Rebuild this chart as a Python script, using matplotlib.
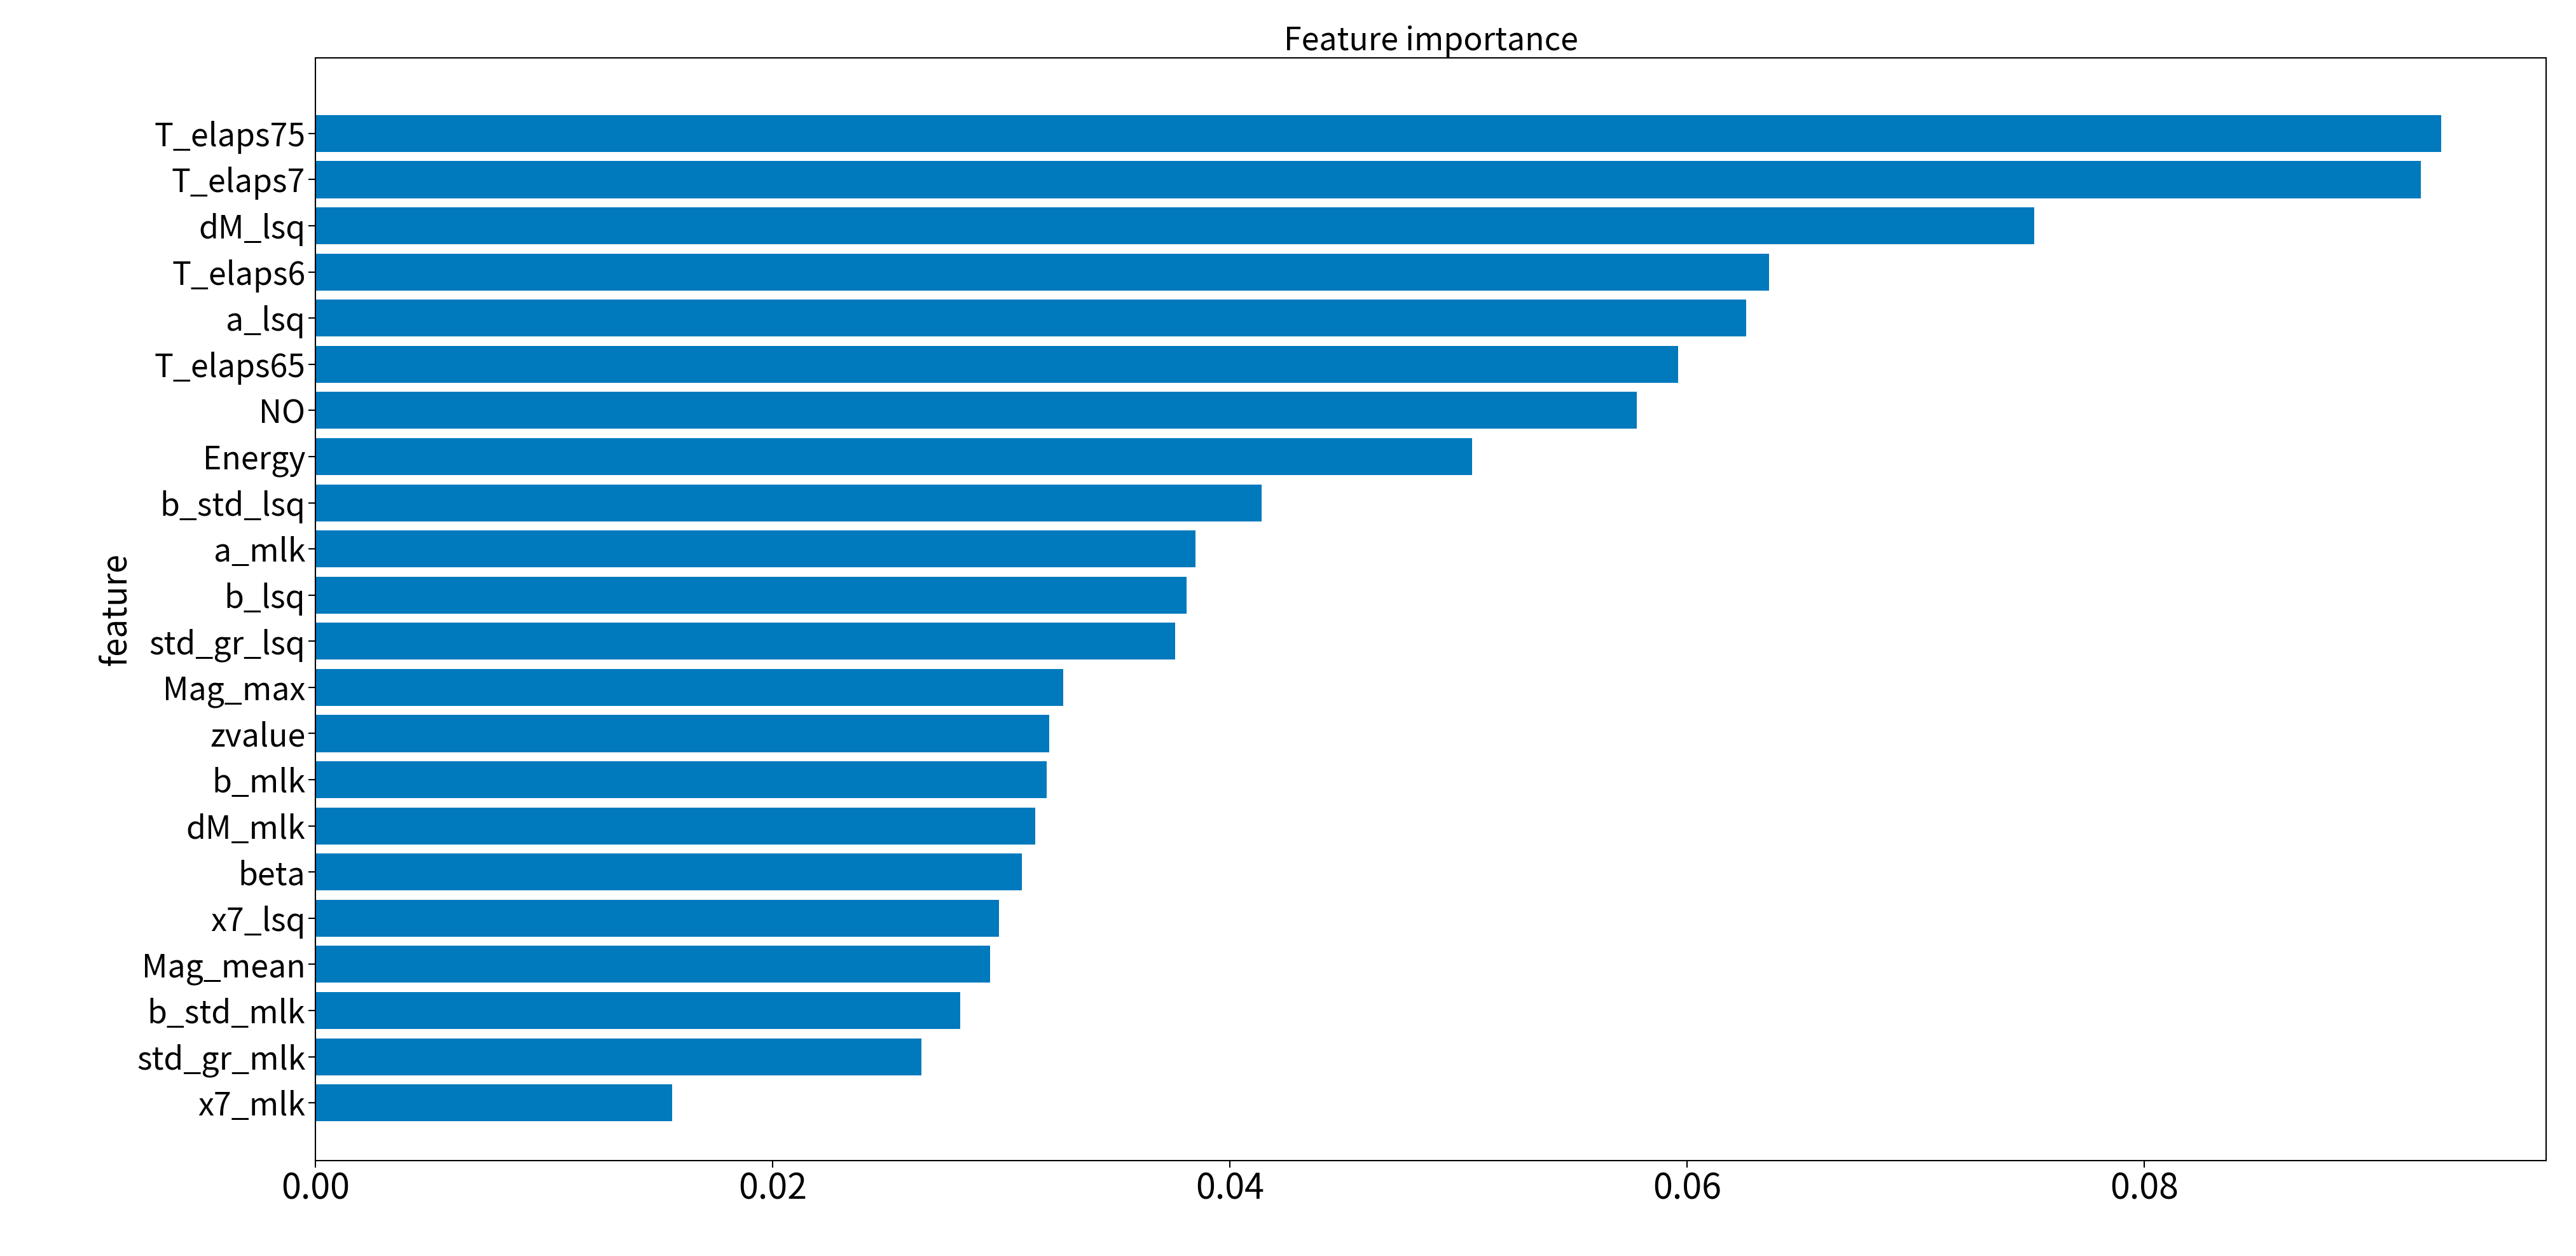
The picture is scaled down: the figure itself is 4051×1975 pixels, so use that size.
import matplotlib
matplotlib.use('Agg')
from matplotlib import pyplot as plt
import numpy as np

plt.rcParams['font.family'] = ['Noto Sans CJK SC', 'DejaVu Sans']

features = ['T_elaps75', 'T_elaps7', 'dM_lsq', 'T_elaps6', 'a_lsq', 'T_elaps65', 'NO',
            'Energy', 'b_std_lsq', 'a_mlk', 'b_lsq', 'std_gr_lsq', 'Mag_max', 'zvalue',
            'b_mlk', 'dM_mlk', 'beta', 'x7_lsq', 'Mag_mean', 'b_std_mlk', 'std_gr_mlk', 'x7_mlk']
importance = [0.0930, 0.0921, 0.0752, 0.0636, 0.0626, 0.0596, 0.0578,
              0.0506, 0.0414, 0.0385, 0.0381, 0.0376, 0.0327, 0.0321,
              0.0320, 0.0315, 0.0309, 0.0299, 0.0295, 0.0282, 0.0265, 0.0156]

fig = plt.figure(figsize=(40.51, 19.75), dpi=100)
ax = fig.add_axes([0.1225, 0.076, 0.866, 0.878])

y = np.arange(len(features))[::-1]
ax.barh(y, importance, height=0.8, color='#0079bd')
ax.set_yticks(y)
ax.set_yticklabels(features, fontsize=36)
ax.set_ylim(-1.25, len(features) - 1 + 1.64)
ax.set_xlim(0, 0.0976)
ax.set_xticks([0, 0.02, 0.04, 0.06, 0.08])
ax.set_xticklabels(['0.00', '0.02', '0.04', '0.06', '0.08'], fontsize=40)
ax.set_ylabel('feature', fontsize=38)
ax.set_title('Feature importance', fontsize=36)
ax.tick_params(length=8, width=1.5)
for s in ax.spines.values():
    s.set_linewidth(1.5)

fig.savefig('out.png', dpi=100)
